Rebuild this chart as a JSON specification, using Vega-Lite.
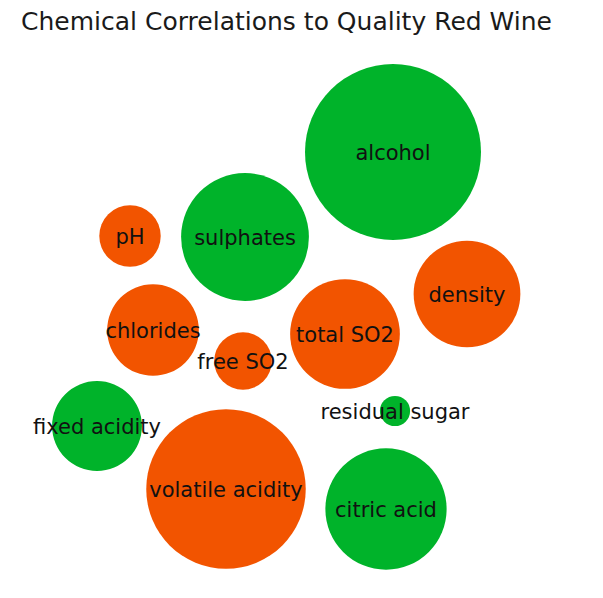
{
  "$schema": "https://vega.github.io/schema/vega-lite/v6.json",
  "width": 603,
  "height": 553,
  "autosize": "none",
  "padding": {"left": 0, "right": 0, "top": 45, "bottom": 0},
  "background": "white",
  "title": {"text": "Chemical Correlations to Quality Red Wine", "font": "DejaVu Sans", "fontSize": 25, "fontWeight": "normal", "color": "#1a1a1a", "anchor": "middle", "frame": "group", "dx": -15, "offset": 10},
  "config": {"view": {"stroke": null}},
  "data": {"values": [
    {"name": "alcohol", "x": 39.3, "y": 44.6, "magnitude": 0.476, "direction": "positive"},
    {"name": "sulphates", "x": 24.5, "y": 36.1, "magnitude": 0.251, "direction": "positive"},
    {"name": "pH", "x": 13.0, "y": 36.2, "magnitude": 0.058, "direction": "negative"},
    {"name": "density", "x": 46.7, "y": 30.4, "magnitude": 0.175, "direction": "negative"},
    {"name": "chlorides", "x": 15.3, "y": 26.8, "magnitude": 0.129, "direction": "negative"},
    {"name": "free SO2", "x": 24.3, "y": 23.7, "magnitude": 0.051, "direction": "negative"},
    {"name": "total SO2", "x": 34.5, "y": 26.4, "magnitude": 0.185, "direction": "negative"},
    {"name": "residual sugar", "x": 39.5, "y": 18.7, "magnitude": 0.014, "direction": "positive"},
    {"name": "fixed acidity", "x": 9.7, "y": 17.2, "magnitude": 0.124, "direction": "positive"},
    {"name": "volatile acidity", "x": 22.6, "y": 10.9, "magnitude": 0.391, "direction": "negative"},
    {"name": "citric acid", "x": 38.6, "y": 8.9, "magnitude": 0.226, "direction": "positive"}
  ]},
  "encoding": {
    "x": {"field": "x", "type": "quantitative", "scale": {"domain": [0, 60.3], "nice": false, "zero": false}, "axis": null},
    "y": {"field": "y", "type": "quantitative", "scale": {"domain": [0, 55.3], "nice": false, "zero": false}, "axis": null}
  },
  "layer": [
    {
      "mark": {"type": "circle", "opacity": 1, "strokeWidth": 0},
      "encoding": {
        "size": {"field": "magnitude", "type": "quantitative", "scale": {"type": "linear", "domain": [0, 0.476], "range": [0, 30976], "zero": true}, "legend": null},
        "color": {"field": "direction", "type": "nominal", "scale": {"domain": ["positive", "negative"], "range": ["#00b32a", "#f25400"]}, "legend": null}
      }
    },
    {
      "mark": {"type": "text", "font": "DejaVu Sans", "fontSize": 21, "color": "#111111", "align": "center", "baseline": "middle", "dy": 1.5},
      "encoding": {"text": {"field": "name", "type": "nominal"}}
    }
  ]
}
